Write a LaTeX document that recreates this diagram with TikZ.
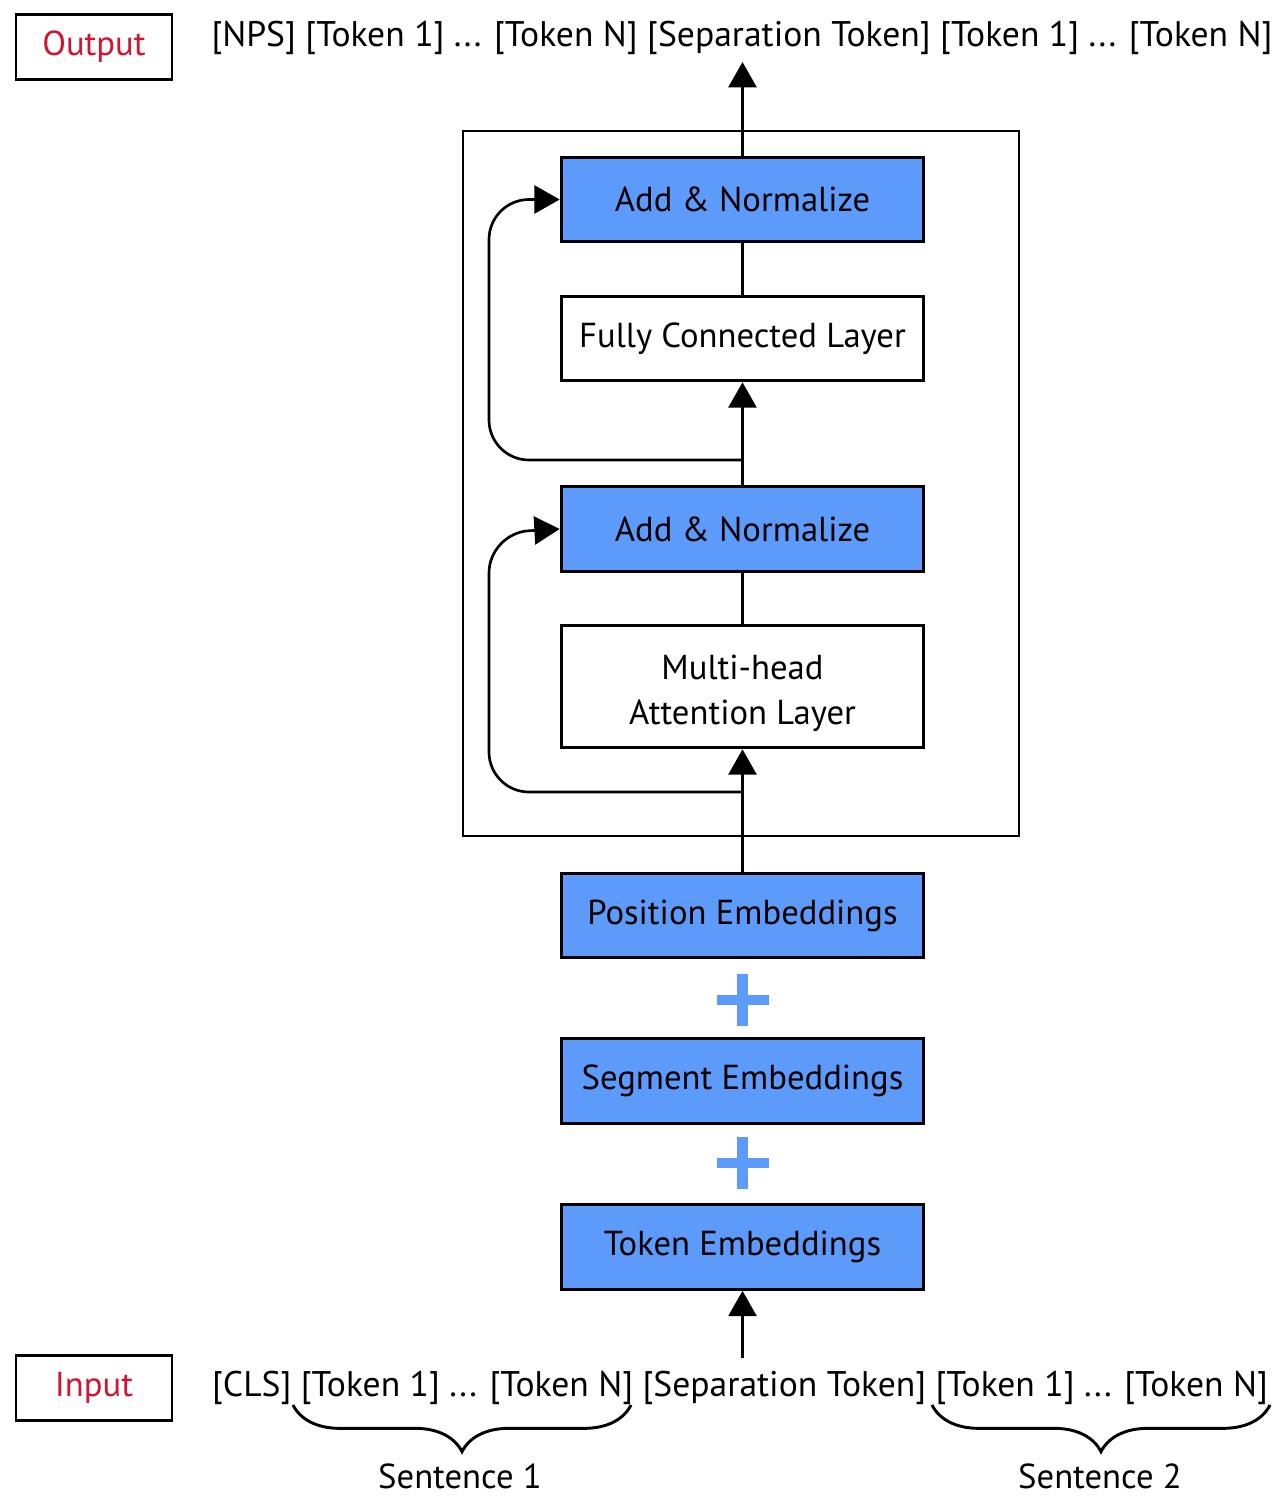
\documentclass[tikz,border=0pt]{standalone}
\usepackage{fontspec}
\setmainfont{PT Sans}
\usetikzlibrary{arrows.meta,decorations.pathreplacing,calc}
\definecolor{boxblue}{RGB}{92,155,250}
\definecolor{labelred}{RGB}{210,20,50}
\begin{document}
\begin{tikzpicture}[x=0.75pt,y=-0.75pt,
  every node/.style={font=\fontsize{26pt}{34pt}\selectfont, inner sep=0pt},
  layer/.style={draw=black, line width=2.2pt, minimum width=272pt, minimum height=63.5pt, align=center},
  bluelayer/.style={layer, fill=boxblue},
  whitelayer/.style={layer, fill=white},
  tagbox/.style={draw=black, line width=2pt, minimum width=117pt, minimum height=49pt, text=labelred},
  tokline/.style={font=\fontsize{26.7pt}{34pt}\selectfont},
  conn/.style={line width=2pt},
  arr/.style={conn, -{Triangle[length=19pt,width=21pt]}},
  plussign/.style={boxblue, line width=8pt},
  sbrace/.style={line width=2.2pt, decorate, decoration={brace, amplitude=35pt}}
]
\useasboundingbox (0,0) rectangle (1286,1507);

% outer container
\draw[line width=2pt] (463,131) rectangle (1019,836);

% top
\node[tagbox] (outbox) at (94,47) {Output};
\node[tokline] (outtext) at (742,38) {[NPS] [Token 1] ... [Token N] [Separation Token] [Token 1] ... [Token N]};

% layers
\node[bluelayer] (addnorm1) at (742.5,199.5) {Add \& Normalize};
\node[whitelayer] (fc) at (742.5,338.5) {Fully Connected Layer};
\node[bluelayer] (addnorm2) at (742.5,529) {Add \& Normalize};
\node[whitelayer, minimum height=92pt] (mha) at (742.5,686.5) {};
\node[align=center] (mhatext) at (742.5,693) {Multi-head\\Attention Layer};
\node[bluelayer] (pos) at (742.5,915.5) {Position Embeddings};
\node[bluelayer] (seg) at (742.5,1081) {Segment Embeddings};
\node[bluelayer] (tok) at (742.5,1247) {Token Embeddings};

% plus signs
\coordinate (plus1) at (742.5,1000);
\coordinate (plus2) at (742.5,1163);
\foreach \p in {plus1,plus2}{
  \draw[plussign] ($(\p)+(-26,0)$) -- ($(\p)+(26,0)$);
  \draw[plussign] ($(\p)+(0,-26)$) -- ($(\p)+(0,26)$);
}

% bottom
\node[tagbox] (inbox) at (94,1388) {Input};
\node[tokline] (intext) at (740,1388) {[CLS] [Token 1] ... [Token N] [Separation Token] [Token 1] ... [Token N]};
\node (sent1) at (460,1476) {Sentence 1};
\node (sent2) at (1100,1476) {Sentence 2};

% connectors
\coordinate (outtip) at (742.5,62);
\coordinate (split1) at (742.5,460);
\coordinate (split2) at (742.5,792);
\coordinate (intop) at (742.5,1358);

\draw[arr] (addnorm1.north) -- (outtip);
\draw[conn] (fc.north) -- (addnorm1.south);
\draw[arr] (addnorm2.north) -- (fc.south);
\draw[arr, rounded corners=30pt] (split1) -- (489,460) -- (489,199.5) -- (addnorm1.west);
\draw[conn] (mha.north) -- (addnorm2.south);
\draw[arr] (pos.north) -- (mha.south);
\draw[arr, rounded corners=30pt] (split2) -- (489,792) -- (489,533) -- (addnorm2.west);
\draw[arr] (intop) -- (tok.south);

% braces
\draw[sbrace] (631,1405) -- (293,1405);
\draw[sbrace] (1270,1405) -- (932,1405);
\end{tikzpicture}
\end{document}
